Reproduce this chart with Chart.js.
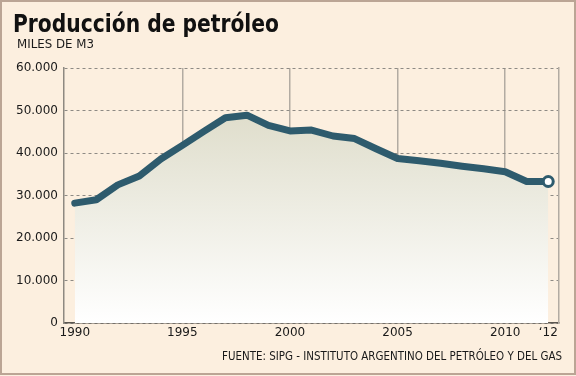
<!DOCTYPE html>
<html>
<head>
<meta charset="utf-8">
<script src="https://cdn.jsdelivr.net/npm/chart.js@4.4.1/dist/chart.umd.min.js"></script>
<style>
  html, body { margin: 0; padding: 0; background: #fcefdf; }
  #wrap { position: relative; width: 576px; height: 376px; background: #fcefdf; overflow: hidden; }
  #chart { position: absolute; left: 0; top: 0; }
  #frame { position: absolute; left: 0; top: 0; width: 576px; height: 375px; box-sizing: border-box;
           border: 2px solid #bba595; pointer-events: none; }
  .txt { position: absolute; white-space: nowrap; color: #111; font-family: "DejaVu Sans", sans-serif;
         transform-origin: 0 0; }
  #title { left: 13px; top: 10px; font-size: 24px; font-weight: bold; }
  #unit { left: 17px; top: 37px; font-size: 12px; color: #1a1a1a; }
  #source { left: 222px; top: 349px; font-size: 12px; color: #1a1a1a; }
</style>
</head>
<body>
<div id="wrap">
  <canvas id="chart" width="576" height="376"></canvas>
  <div id="title" class="txt" data-fit="266">Producción de petróleo</div>
  <div id="unit" class="txt" data-fit="77">MILES DE M3</div>
  <div id="source" class="txt" data-fit="340">FUENTE: SIPG - INSTITUTO ARGENTINO DEL PETRÓLEO Y DEL GAS</div>
  <div id="frame"></div>
</div>
<script>
// Oil production, thousand m3
const years = [1990, 1991, 1992, 1993, 1994, 1995, 1996, 1997, 1998, 1999, 2000,
               2001, 2002, 2003, 2004, 2005, 2006, 2007, 2008, 2009, 2010, 2011, 2012];
const production = [28200, 29000, 32500, 34600, 38600, 41800, 45100, 48300, 48900, 46500, 45200,
                    45400, 44000, 43400, 41000, 38700, 38200, 37600, 36900, 36300, 35600, 33300, 33300];
const xTickYears = [1990, 1995, 2000, 2005, 2010, 2012];
const xGridYears = [1995, 2000, 2005, 2010];

const lineColor = '#2e5b6d';

// squeeze the html texts to the widths seen in the reference
document.querySelectorAll('[data-fit]').forEach(el => {
    const target = parseFloat(el.dataset.fit);
    const w = el.getBoundingClientRect().width;
    if (w > 0) el.style.transform = `scaleX(${target / w})`;
});

const fmt = v => String(v).replace(/\B(?=(\d{3})+(?!\d))/g, '.');

const ctx = document.getElementById('chart').getContext('2d');
new Chart(ctx, {
    type: 'line',
    data: {
        datasets: [{
            data: years.map((y, i) => ({ x: y, y: production[i] })),
            borderColor: lineColor,
            borderWidth: 7,
            borderJoinStyle: 'round',
            borderCapStyle: 'round',
            tension: 0,
            fill: 'origin',
            backgroundColor: (c) => {
                const area = c.chart.chartArea;
                if (!area) return 'rgba(220,218,200,0.6)';
                const g = c.chart.ctx.createLinearGradient(0, area.top, 0, area.bottom);
                g.addColorStop(0, '#d8d6c0');
                g.addColorStop(1, '#ffffff');
                return g;
            },
            pointRadius: (c) => c.dataIndex === years.length - 1 ? 5 : 0,
            pointBackgroundColor: '#ffffff',
            pointBorderColor: lineColor,
            pointBorderWidth: 3
        }]
    },
    options: {
        responsive: false,
        animation: false,
        events: [],
        layout: { padding: { left: 0, top: 68, right: 17, bottom: 31 } },
        plugins: {
            legend: { display: false },
            tooltip: { enabled: false }
        },
        scales: {
            x: {
                type: 'linear',
                min: 1989.5,
                max: 2012.5,
                afterBuildTicks: (scale) => { scale.ticks = xTickYears.map(v => ({ value: v })); },
                afterFit: (scale) => { scale.height = 22; },
                ticks: {
                    autoSkip: false,
                    maxRotation: 0,
                    padding: 3,
                    color: '#1a1a1a',
                    font: { family: 'DejaVu Sans', size: 12 },
                    callback: (v) => v === 2012 ? '\u201812' : String(v)
                },
                grid: {
                    drawTicks: false,
                    lineWidth: 1.5,
                    color: (c) => c.tick && xGridYears.includes(c.tick.value) ? '#b2aba2' : 'rgba(0,0,0,0)'
                },
                border: { display: true, color: '#5a5650', width: 1.5 }
            },
            y: {
                min: 0,
                max: 60000,
                afterFit: (scale) => { scale.width = 64; },
                ticks: {
                    stepSize: 10000,
                    padding: 6,
                    color: '#1a1a1a',
                    font: { family: 'DejaVu Sans', size: 12 },
                    callback: (v) => fmt(v)
                },
                grid: {
                    drawTicks: false,
                    color: '#8e8a84',
                    lineWidth: 1
                },
                border: { display: true, color: '#8e8981', width: 1.5, dash: [3, 3] }
            },
            yRight: {
                position: 'right',
                min: 0,
                max: 60000,
                afterFit: (scale) => { scale.width = 0; },
                ticks: { display: false },
                grid: { display: false, drawTicks: false },
                border: { display: true, color: '#b2aba2', width: 1.5 }
            }
        }
    }
});
</script>
</body>
</html>
